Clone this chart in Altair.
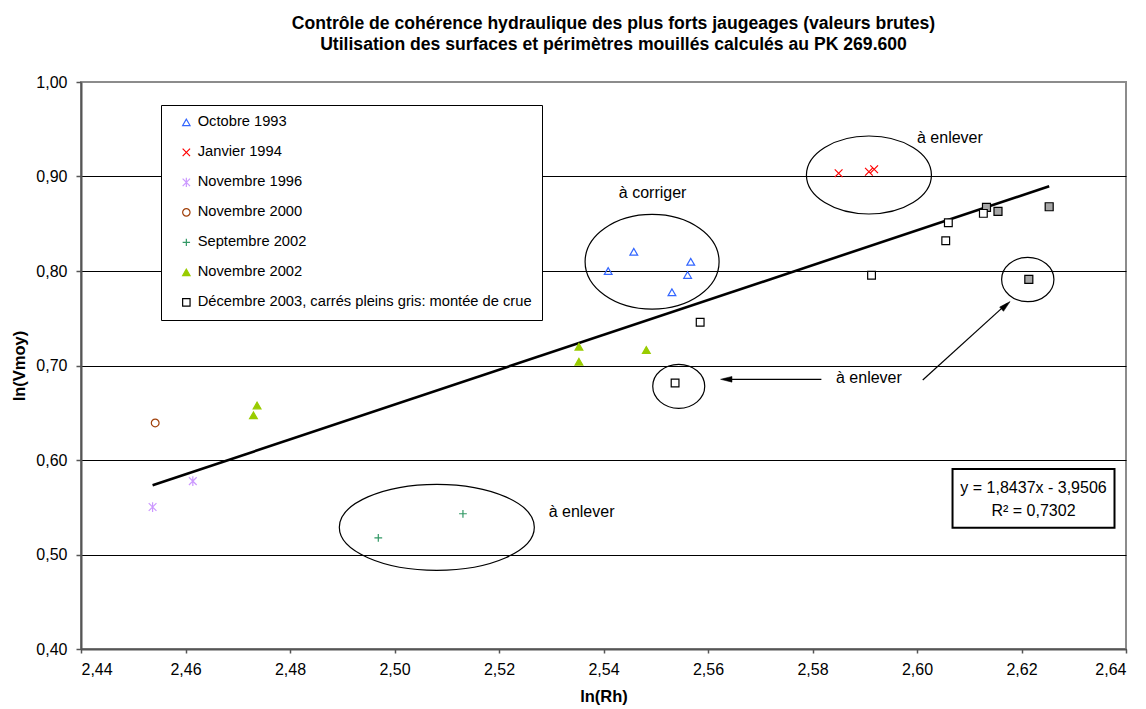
import altair as alt
import pandas as pd

FONT = "Liberation Sans"

# ---------------- data ----------------
series_names = [
    "Octobre 1993",
    "Janvier 1994",
    "Novembre 1996",
    "Novembre 2000",
    "Septembre 2002",
    "Novembre 2002",
    "Décembre 2003, carrés pleins gris: montée de crue",
]

oct93_x = [2.5409, 2.5458, 2.5567, 2.5561, 2.5531]
oct93_y = [0.8000, 0.8204, 0.8098, 0.7958, 0.7775]
jan94_x = [2.5850, 2.5908, 2.5918]
jan94_y = [0.9034, 0.9050, 0.9076]
nov96_x = [2.4537, 2.4614]
nov96_y = [0.5502, 0.5776]
nov00_x = [2.4542]
nov00_y = [0.6392]
sep02_x = [2.4969, 2.5131]
sep02_y = [0.5175, 0.5431]
nov02_x = [2.4737, 2.4730, 2.5353, 2.5353, 2.5482]
nov02_y = [0.6577, 0.6473, 0.7199, 0.7040, 0.7164]
dec03_x = [2.6060, 2.6127, 2.6055, 2.5913, 2.5585, 2.5537]
dec03_y = [0.8511, 0.8610, 0.8320, 0.7955, 0.7457, 0.6815]
dec03_grey_x = [2.6133, 2.6155, 2.6253, 2.6214]
dec03_grey_y = [0.8674, 0.8632, 0.8680, 0.7912]

trend_slope = 1.8437
trend_intercept = -3.9506
trend_label = ["y = 1,8437x - 3,9506", "R² = 0,7302"]

x_ticks = [2.44, 2.46, 2.48, 2.50, 2.52, 2.54, 2.56, 2.58, 2.60, 2.62, 2.64]
y_ticks = [0.40, 0.50, 0.60, 0.70, 0.80, 0.90, 1.00]

# annotation ellipses: centre (data units)
ell_x = [2.5493, 2.5908, 2.5544, 2.6212, 2.5081]
ell_y = [0.8098, 0.9016, 0.6780, 0.7910, 0.5288]
# annotation texts
note_text = ["à corriger", "à enlever", "à enlever", "à enlever"]
note_x = [2.5494, 2.6063, 2.5908, 2.5358]
note_y = [0.8830, 0.9404, 0.6870, 0.5450]
# arrows: start -> tip
arrow_x1 = [2.5817, 2.6011]
arrow_y1 = [0.6854, 0.6847]
arrow_x2 = [2.5630, 2.6172]
arrow_y2 = [0.6854, 0.7655]
arrowhead_x = [2.5635, 2.6170]
arrowhead_y = [0.6854, 0.7636]
# equation box corners
box_x = [2.6068, 2.6378]
box_y = [0.5284, 0.5905]

# ---------------- build tables ----------------
rows = []
for name, xs_, ys_ in zip(
    series_names,
    [oct93_x, jan94_x, nov96_x, nov00_x, sep02_x, nov02_x, dec03_x],
    [oct93_y, jan94_y, nov96_y, nov00_y, sep02_y, nov02_y, dec03_y],
):
    for a, b in zip(xs_, ys_):
        rows.append({"serie": name, "x": a, "y": b})
pts = pd.DataFrame(rows)
grey = pd.DataFrame({"x": dec03_grey_x, "y": dec03_grey_y})

all_x = [v for lst in [oct93_x, jan94_x, nov96_x, nov00_x, sep02_x, nov02_x, dec03_x, dec03_grey_x] for v in lst]
tx = [min(all_x), max(all_x)]
trend = pd.DataFrame({"x": tx, "y": [trend_slope * v + trend_intercept for v in tx]})

X_MARK = "M-1,-1L1,1M1,-1L-1,1"
AST_MARK = "M-1,-1L1,1M1,-1L-1,1M0,-1.25L0,1.25"
PLUS_MARK = "M-1,0L1,0M0,-1L0,1"

shape_range = ["triangle-up", X_MARK, AST_MARK, "circle", PLUS_MARK, "triangle-up", "square"]
stroke_range = ["#3366FF", "#FF0000", "#CC99FF", "#A0400A", "#339966", "#99CC00", "#000000"]
fill_range = ["transparent", "transparent", "transparent", "transparent", "transparent", "#99CC00", "#FFFFFF"]

xs = alt.Scale(domain=[2.44, 2.64], nice=False, zero=False)
ys = alt.Scale(domain=[0.40, 1.00], nice=False, zero=False)

lab = "replace(format(datum.value, '.2f'), '.', ',')"
x_axis = alt.Axis(
    values=x_ticks, labelExpr=lab, grid=False, title="ln(Rh)",
    tickSize=4, labelPadding=8, titleY=47, titleBaseline="middle",
)
y_axis = alt.Axis(
    values=y_ticks, labelExpr=lab, grid=True, title="ln(Vmoy)",
    tickSize=5, labelPadding=9, titleX=-62, titleBaseline="middle",
    gridColor={"condition": {"test": "datum.value > 0.99", "value": "#8c8c8c"}, "value": "#000000"},
)

X = alt.X("x:Q", scale=xs, axis=x_axis)
Y = alt.Y("y:Q", scale=ys, axis=y_axis)

legend = alt.Legend(
    orient="none", legendX=80, legendY=23, title=None,
    strokeColor="#000000", fillColor="#FFFFFF", padding=10,
    rowPadding=14, symbolOffset=8, labelOffset=4,
    labelFont=FONT, labelFontSize=14.7, labelColor="#000000",
    symbolSize=55, symbolStrokeWidth=1.2, labelLimit=600,
)

points = alt.Chart(pts).mark_point(size=60, strokeWidth=1.2, opacity=1).encode(
    x=X, y=Y,
    shape=alt.Shape("serie:N", scale=alt.Scale(domain=series_names, range=shape_range), legend=legend),
    stroke=alt.Stroke("serie:N", scale=alt.Scale(domain=series_names, range=stroke_range), legend=legend),
    fill=alt.Fill("serie:N", scale=alt.Scale(domain=series_names, range=fill_range), legend=legend),
)

grey_pts = alt.Chart(grey).mark_point(
    shape="square", size=64, filled=True, fill="#A6A6A6", stroke="#000000", strokeWidth=1.2, opacity=1
).encode(x="x:Q", y="y:Q")

trend_line = alt.Chart(trend).mark_line(color="#000000", strokeWidth=2.6).encode(x="x:Q", y="y:Q")

# ellipses as custom path symbols
ell_w = [134, 125, 52, 52.3, 195]
ell_h = [94.7, 78, 44, 44.4, 86]
ellipses = []
for cx, cy, w, h in zip(ell_x, ell_y, ell_w, ell_h):
    r = h / w
    path = f"M-1,0A1,{r:.4f},0,1,1,1,0A1,{r:.4f},0,1,1,-1,0Z"
    ellipses.append(
        alt.Chart(pd.DataFrame({"x": [cx], "y": [cy]})).mark_point(
            shape=path, size=w * w, filled=False, stroke="#000000", strokeWidth=1.2, opacity=1
        ).encode(x="x:Q", y="y:Q")
    )

notes = alt.Chart(pd.DataFrame({"t": note_text, "x": note_x, "y": note_y})).mark_text(
    font=FONT, fontSize=16, color="#000000", align="center", baseline="middle"
).encode(x="x:Q", y="y:Q", text="t:N")

arrows = alt.Chart(pd.DataFrame({"x": arrow_x1, "y": arrow_y1, "x2": arrow_x2, "y2": arrow_y2})).mark_rule(
    color="#000000", strokeWidth=1.2
).encode(x="x:Q", y="y:Q", x2="x2:Q", y2="y2:Q")

ARROW_HEAD = "M-1,0L1,-0.5L1,0.5Z"
heads = alt.Chart(pd.DataFrame({"x": arrowhead_x, "y": arrowhead_y, "a": [0, 138]})).mark_point(
    shape=ARROW_HEAD, size=130, filled=True, fill="#000000", stroke="#000000", strokeWidth=0.5, opacity=1
).encode(x="x:Q", y="y:Q", angle=alt.Angle("a:Q", scale=None))

eq_box = alt.Chart(pd.DataFrame({"x": [box_x[0]], "x2": [box_x[1]], "y": [box_y[0]], "y2": [box_y[1]]})).mark_rect(
    fill="#FFFFFF", stroke="#000000", strokeWidth=2
).encode(x="x:Q", x2="x2:Q", y="y:Q", y2="y2:Q")

eq_text = alt.Chart(pd.DataFrame({
    "t": trend_label,
    "x": [(box_x[0] + box_x[1]) / 2] * 2,
    "y": [box_y[1] - (box_y[1] - box_y[0]) * 0.32, box_y[1] - (box_y[1] - box_y[0]) * 0.72],
})).mark_text(font=FONT, fontSize=16, color="#000000", align="center", baseline="middle").encode(
    x="x:Q", y="y:Q", text="t:N"
)

chart = alt.layer(
    trend_line, *ellipses, arrows, heads, notes, eq_box, eq_text, grey_pts, points
).properties(
    width=1045,
    height=567,
    autosize=alt.AutoSizeParams(type="none"),
    padding={"left": 73, "top": 74, "right": 10, "bottom": 60},
    title=alt.TitleParams(
        text=[
            "Contrôle de cohérence hydraulique des plus forts jaugeages (valeurs brutes)",
            "Utilisation des surfaces et périmètres mouillés calculés au PK 269.600",
        ],
        font=FONT, fontSize=17.6, fontWeight="bold", color="#000000",
        anchor="middle", frame="group", dx=10, offset=20, lineHeight=21,
    ),
).configure_view(
    stroke="#8c8c8c", strokeWidth=2
).configure_axis(
    labelFont=FONT, labelFontSize=16, labelColor="#000000",
    titleFont=FONT, titleFontSize=16.5, titleFontWeight="bold", titleColor="#000000",
    domainColor="#555555", domainWidth=2, tickColor="#555555", tickWidth=1.5,
    gridWidth=1,
)

chart.save("out.html", embed_options={"renderer": "svg", "actions": False})
